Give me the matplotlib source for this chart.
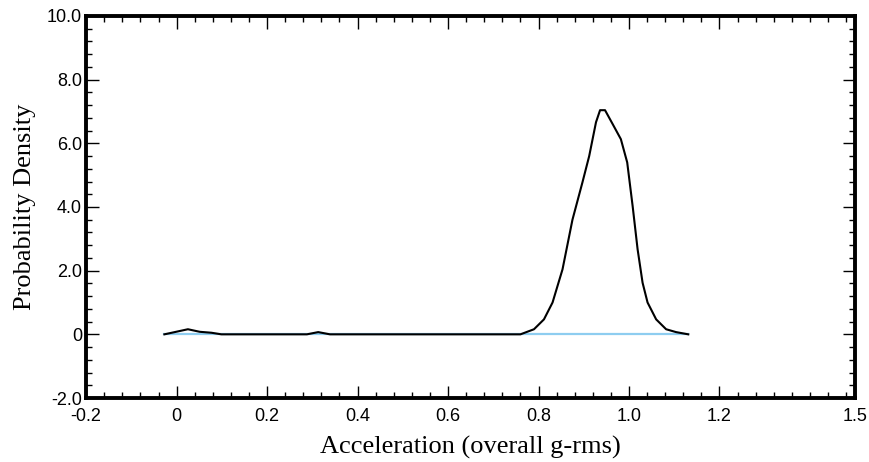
import matplotlib
matplotlib.use('Agg')
import matplotlib.pyplot as plt
from matplotlib.ticker import FixedLocator, MultipleLocator

# Probability density curve
accel = [-0.027, 0.025, 0.051, 0.077, 0.099, 0.12, 0.2, 0.288, 0.313, 0.339,
         0.4, 0.5, 0.6, 0.7, 0.76, 0.79, 0.812, 0.831, 0.853, 0.875, 0.897,
         0.912, 0.927, 0.936, 0.947, 0.964, 0.982, 0.996, 1.008, 1.019,
         1.03, 1.041, 1.06, 1.082, 1.104, 1.131]
density = [0.0, 0.16, 0.08, 0.05, 0.0, 0.0, 0.0, 0.0, 0.07, 0.0,
           0.0, 0.0, 0.0, 0.0, 0.0, 0.16, 0.47, 1.0, 2.04, 3.6, 4.77,
           5.6, 6.66, 7.04, 7.04, 6.6, 6.13, 5.4, 4.03, 2.67,
           1.62, 1.0, 0.47, 0.16, 0.07, 0.0]

x_ticks = [-0.2, 0, 0.2, 0.4, 0.6, 0.8, 1.0, 1.2, 1.5]
x_labels = ['-0.2', '0', '0.2', '0.4', '0.6', '0.8', '1.0', '1.2', '1.5']
y_ticks = [-2, 0, 2, 4, 6, 8, 10]
y_labels = ['-2.0', '0', '2.0', '4.0', '6.0', '8.0', '10.0']

SANS = ['Liberation Sans', 'DejaVu Sans']
SERIF = ['Liberation Serif', 'DejaVu Serif']

fig = plt.figure(figsize=(8.7, 4.62), dpi=100)
ax = fig.add_axes([0.099, 0.1385, 0.884, 0.827])

ax.plot([accel[0], accel[-1]], [0, 0], color='#8ecdf0', linewidth=1.6, zorder=2)
ax.plot(accel, density, color='black', linewidth=1.5, zorder=3)

ax.set_xlim(-0.2, 1.5)
ax.set_ylim(-2, 10)

ax.xaxis.set_major_locator(FixedLocator(x_ticks))
ax.set_xticklabels(x_labels, family=SANS, fontsize=13)
ax.xaxis.set_minor_locator(MultipleLocator(0.04))
ax.yaxis.set_major_locator(FixedLocator(y_ticks))
ax.set_yticklabels(y_labels, family=SANS, fontsize=13)
ax.yaxis.set_minor_locator(MultipleLocator(0.4))

ax.tick_params(which='both', direction='in', top=True, right=True, color='black')
ax.tick_params(which='major', length=9, width=1.0, pad=3)
ax.tick_params(which='minor', length=4.5, width=1.0)
ax.tick_params(axis='x', which='major', pad=7)

for spine in ax.spines.values():
    spine.set_linewidth(2.8)

ax.set_xlabel('Acceleration (overall g-rms)', family=SERIF, fontsize=19, labelpad=8)
ax.set_ylabel('Probability Density', family=SERIF, fontsize=19, labelpad=8)

fig.savefig('out.png', dpi=100)
